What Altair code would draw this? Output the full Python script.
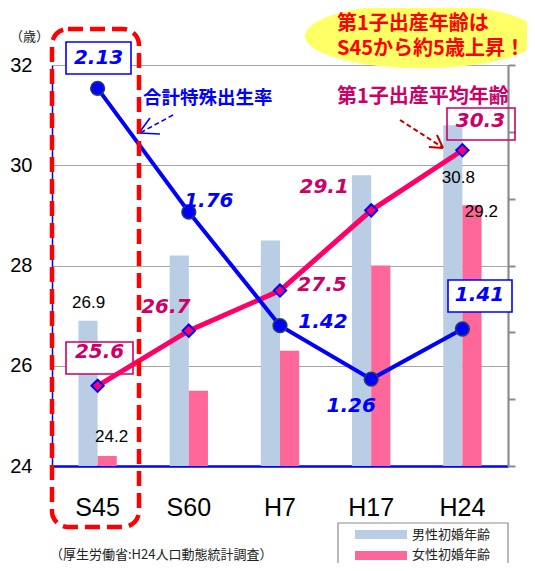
import altair as alt
import pandas as pd

# ---------------- data ----------------
periods = ["S45", "S60", "H7", "H17", "H24"]
male_first_marriage = [26.9, 28.2, 28.5, 29.8, 30.8]
female_first_marriage = [24.2, 25.5, 26.3, 28.0, 29.2]
first_birth_age = [25.6, 26.7, 27.5, 29.1, 30.3]
tfr = [2.13, 1.76, 1.42, 1.26, 1.41]
gender_labels = ["男性初婚年齢", "女性初婚年齢"]
left_ticks = [24, 26, 28, 30, 32]
right_ticks = [1.0, 1.2, 1.4, 1.6, 1.8, 2.0, 2.2]
tfr_title = "合計特殊出生率"
fb_title = "第1子出産平均年齢"
callout_lines = ["第1子出産年齢は", "S45から約5歳上昇！"]
unit_label = "（歳）"
source_note = "（厚生労働省:H24人口動態統計調査）"

# ---------------- styles ----------------
MALE_C = "#B9CDE5"
FEMALE_C = "#FF6699"
PINK = "#FF0066"
MAGENTA = "#CC0066"
BLUE = "#0000FF"
RED = "#FF0000"
NUM_FONT = "DejaVu Sans"
LAT_FONT = "Liberation Sans"
JP_FONT = "Noto Sans CJK JP"

bars_df = pd.DataFrame({
    "period": periods * 2,
    "gender": [gender_labels[0]] * len(periods) + [gender_labels[1]] * len(periods),
    "age": male_first_marriage + female_first_marriage,
})
lines_df = pd.DataFrame({"period": periods, "first_birth": first_birth_age, "tfr": tfr})

x_enc = alt.X(
    "period:N", sort=periods,
    scale=alt.Scale(domain=periods, paddingInner=0.58, paddingOuter=0.29),
    axis=alt.Axis(title=None, labelAngle=0, labelFont=LAT_FONT, labelFontSize=25,
                  labelColor="#000000", ticks=False, labelPadding=29,
                  domainColor=BLUE, domainWidth=2.5, grid=False),
)
yl_scale = alt.Scale(domain=[24, 32], zero=False, nice=False)
yl_axis = alt.Axis(values=left_ticks, title=None, labelFont=LAT_FONT, labelFontSize=20,
                   labelColor="#000000", ticks=False, labelPadding=20,
                   domainColor=BLUE, domainWidth=1.5, grid=True,
                   gridColor="#A6A6A6", gridWidth=1.2)
yr_scale = alt.Scale(domain=[1.0, 2.2], zero=False, nice=False)
yr_axis = alt.Axis(orient="right", values=right_ticks, title=None, labels=False,
                   domainColor="#8C8C8C", domainWidth=2.2, ticks=True,
                   tickColor="#8C8C8C", tickWidth=2, tickSize=7, grid=False)

one = alt.Data(values=[{"k": 1}])


def rect(x1, y1, x2, y2, stroke, width, fill=None, dash=None, radius=0):
    kw = dict(stroke=stroke, strokeWidth=width)
    if fill is None:
        kw["fillOpacity"] = 0
        kw["fill"] = "#ffffff"
    else:
        kw["fill"] = fill
    if dash:
        kw["strokeDash"] = dash
    if radius:
        kw["cornerRadius"] = radius
    return alt.Chart(one).mark_rect(**kw).encode(
        x=alt.value(x1), y=alt.value(y1), x2=alt.value(x2), y2=alt.value(y2))


def rule(x1, y1, x2, y2, color, width, dash=None):
    kw = dict(color=color, strokeWidth=width)
    if dash:
        kw["strokeDash"] = dash
    return alt.Chart(one).mark_rule(**kw).encode(
        x=alt.value(x1), y=alt.value(y1), x2=alt.value(x2), y2=alt.value(y2))


def label(txt, x, y, size, color, font=JP_FONT, weight="bold", align="left"):
    return alt.Chart(one).mark_text(
        text=txt, font=font, fontSize=size, fontWeight=weight, color=color,
        align=align, baseline="middle").encode(x=alt.value(x), y=alt.value(y))


# ---------------- left-axis group ----------------
bars = alt.Chart(bars_df).mark_bar().encode(
    x=x_enc,
    xOffset=alt.XOffset("gender:N", sort=gender_labels,
                        scale=alt.Scale(domain=gender_labels, paddingInner=0, paddingOuter=0)),
    y=alt.Y("age:Q", scale=yl_scale, axis=yl_axis),
    y2=alt.Y2Datum(24),
    color=alt.Color("gender:N", scale=alt.Scale(domain=gender_labels, range=[MALE_C, FEMALE_C]),
                    legend=None),
)

# label boxes (behind the numbers)
boxes = [
    rect(14, -23, 79, 9, BLUE, 1.6, fill="#ffffff"),      # 2.13
    rect(396, 215, 460, 247, BLUE, 1.6, fill="#ffffff"),  # 1.41
    rect(14, 277, 81, 309, MAGENTA, 1.6, fill="#ffffff"), # 25.6
    rect(395, 43, 463, 75, MAGENTA, 1.6),                 # 30.3
]

fb_line = alt.Chart(lines_df).mark_line(color=PINK, strokeWidth=5).encode(
    x=x_enc, y=alt.Y("first_birth:Q", scale=yl_scale, axis=yl_axis))
fb_pts = alt.Chart(lines_df).mark_point(
    shape="diamond", filled=True, fill=PINK, stroke=BLUE, strokeWidth=2, size=150, opacity=1
).encode(x=x_enc, y=alt.Y("first_birth:Q", scale=yl_scale, axis=yl_axis))

fb_offsets = {"S45": (2, -34), "S60": (-23, -24), "H7": (42, -6), "H17": (-47, -23), "H24": (18, -29)}
fb_labels = [
    alt.Chart(lines_df).transform_filter(alt.datum.period == p).mark_text(
        dx=dx, dy=dy, font=NUM_FONT, fontSize=20, fontWeight="bold", fontStyle="italic",
        color=MAGENTA, align="center", baseline="middle"
    ).encode(x=x_enc, y=alt.Y("first_birth:Q", scale=yl_scale, axis=yl_axis),
             text=alt.Text("first_birth:Q", format=".1f"))
    for p, (dx, dy) in fb_offsets.items()
]

bar_offsets = {("S45", 0): (-9, -18), ("S45", 1): (14, -18.5),
               ("H24", 0): (-4, 53), ("H24", 1): (19, 6.5)}
bar_labels = [
    alt.Chart(bars_df).transform_filter(
        (alt.datum.period == p) & (alt.datum.gender == gender_labels[g])
    ).mark_text(dx=dx, dy=dy, font=LAT_FONT, fontSize=17, color="#000000",
                align="center", baseline="middle"
    ).encode(x=x_enc, y=alt.Y("age:Q", scale=yl_scale, axis=yl_axis),
             text=alt.Text("age:Q", format=".1f"))
    for (p, g), (dx, dy) in bar_offsets.items()
]

left_group = alt.layer(bars, *boxes, fb_line, fb_pts, *fb_labels, *bar_labels)

# ---------------- right-axis group ----------------
tfr_line = alt.Chart(lines_df).mark_line(color=BLUE, strokeWidth=4).encode(
    x=x_enc, y=alt.Y("tfr:Q", scale=yr_scale, axis=yr_axis))
tfr_pts = alt.Chart(lines_df).mark_point(
    shape="circle", filled=True, fill=BLUE, stroke="#244062", strokeWidth=1.5, size=190, opacity=1
).encode(x=x_enc, y=alt.Y("tfr:Q", scale=yr_scale, axis=yr_axis))
tfr_offsets = {"S45": (1, -30), "S60": (20, -11), "H7": (43, -4), "H17": (-20, 27), "H24": (17, -34)}
tfr_labels = [
    alt.Chart(lines_df).transform_filter(alt.datum.period == p).mark_text(
        dx=dx, dy=dy, font=NUM_FONT, fontSize=20, fontWeight="bold", fontStyle="italic",
        color=BLUE, align="center", baseline="middle"
    ).encode(x=x_enc, y=alt.Y("tfr:Q", scale=yr_scale, axis=yr_axis),
             text=alt.Text("tfr:Q", format=".2f"))
    for p, (dx, dy) in tfr_offsets.items()
]
right_group = alt.layer(tfr_line, tfr_pts, *tfr_labels)

# ---------------- annotations ----------------
ELLIPSE = ("M-1,0C-1,-0.1524,-0.5523,-0.276,0,-0.276C0.5523,-0.276,1,-0.1524,1,0"
           "C1,0.1524,0.5523,0.276,0,0.276C-0.5523,0.276,-1,0.1524,-1,0Z")
ellipse = alt.Chart(one).mark_point(
    shape=ELLIPSE, filled=True, fill="#FFFF66", strokeWidth=0, size=234 * 234, opacity=1
).encode(x=alt.value(370), y=alt.value(-29))

decor = [
    ellipse,
    label(callout_lines[0], 285, -41, 20, RED),
    label(callout_lines[1], 285, -16, 20, RED),
    label(tfr_title, 91, 33, 18.5, BLUE),
    label(fb_title, 285, 32, 20, MAGENTA),
    # blue dashed arrow
    rule(121, 50, 88, 68, BLUE, 1.6, dash=[5, 3]),
    rule(87, 68, 98, 53, BLUE, 1.6),
    rule(87, 68, 108, 69, BLUE, 1.6),
    # dark red dashed arrow
    rule(348, 55, 390, 82, "#C00000", 2, dash=[5, 3]),
    rule(391, 83, 385, 70, "#C00000", 2),
    rule(391, 83, 377, 82, "#C00000", 2),
    # red dashed frame around S45
    rect(0, -36, 87, 462, RED, 4.5, dash=[15, 7], radius=16),
    # unit and source
    label(unit_label, -42, -28, 13, "#222222", weight="normal"),
    label(source_note, -2, 490, 13, "#222222", weight="normal"),
    # manual legend
    rect(286, 458, 456, 540, "#8C8C8C", 1.2, fill="#ffffff"),
    rect(303, 465, 355, 474, None, 0, fill=MALE_C),
    rect(303, 486, 355, 495, None, 0, fill=FEMALE_C),
    label(gender_labels[0], 360, 469.5, 13, "#222222", weight="normal"),
    label(gender_labels[1], 360, 490, 13, "#222222", weight="normal"),
]

chart = alt.layer(left_group, right_group, *decor).resolve_scale(y="independent").properties(
    width=456, height=401,
    autosize=alt.AutoSizeParams(type="none"),
    padding={"left": 44, "top": 57, "right": 19, "bottom": 97},
).configure_view(stroke=None)

chart.save("out.html", embed_options={"renderer": "svg", "actions": False})
